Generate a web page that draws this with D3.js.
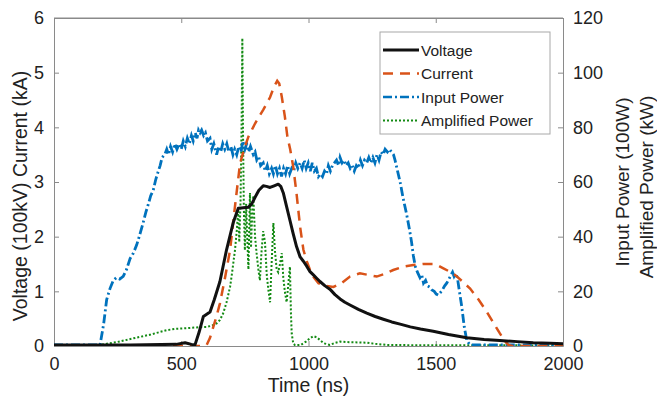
<!DOCTYPE html>
<html lang="en">
  <head>
    <meta charset="utf-8" />
    <title>Voltage, current and power</title>
    <script src="https://d3js.org/d3.v7.min.js"></script>
    <style>
      body { margin: 0; background: white; }
      text { font-family: "Liberation Sans", Arial, sans-serif; fill: #222; }
    </style>
  </head>
  <body>
    <div id="chart"></div>
    <script>
      // [time (ns), value] pairs
      var voltage = [
        [0, 0.02], [100, 0.02], [300, 0.02], [480, 0.03], [515, 0.06], [540, 0.03],
        [554, 0.02], [570, 0.25], [587, 0.54], [600, 0.58], [613, 0.62], [630, 0.85],
        [652, 1.18], [678, 1.76], [705, 2.27], [724, 2.52], [745, 2.53], [764, 2.54],
        [777, 2.6], [790, 2.72], [805, 2.85], [822, 2.93], [835, 2.92], [849, 2.9],
        [865, 2.93], [881, 2.96], [891, 2.92], [901, 2.8], [914, 2.55], [927, 2.3],
        [940, 2.05], [953, 1.82], [967, 1.63], [980, 1.55], [993, 1.46], [1006, 1.36],
        [1019, 1.3], [1032, 1.24], [1045, 1.18], [1065, 1.1], [1084, 1.04], [1104, 0.94],
        [1124, 0.86], [1143, 0.8], [1163, 0.75], [1196, 0.67], [1229, 0.6], [1262, 0.54],
        [1294, 0.49], [1327, 0.44], [1360, 0.4], [1400, 0.35], [1440, 0.31], [1490, 0.27],
        [1550, 0.21], [1622, 0.15], [1690, 0.12], [1752, 0.1], [1820, 0.08], [1883, 0.06],
        [1950, 0.05], [2000, 0.04]
      ];

      var current = [
        [0, 0], [580, 0], [600, 0.02], [613, 0.15], [626, 0.35], [639, 0.55], [652, 0.78],
        [672, 1.25], [692, 1.76], [711, 2.55], [731, 3.34], [747, 3.6], [764, 3.83],
        [790, 4.07], [822, 4.32], [849, 4.55], [865, 4.75], [877, 4.85], [885, 4.8],
        [895, 4.56], [907, 4.2], [917, 3.83], [928, 3.6], [940, 3.28], [953, 2.79],
        [967, 2.18], [980, 1.76], [993, 1.55], [1006, 1.39], [1020, 1.26], [1039, 1.15],
        [1065, 1.1], [1098, 1.08], [1130, 1.15], [1163, 1.27], [1202, 1.33], [1235, 1.3],
        [1268, 1.27], [1300, 1.32], [1333, 1.39], [1372, 1.45], [1412, 1.48], [1450, 1.5],
        [1490, 1.5], [1510, 1.47], [1530, 1.42], [1555, 1.36], [1576, 1.3], [1605, 1.18],
        [1635, 1.05], [1668, 0.85], [1700, 0.63], [1727, 0.42], [1752, 0.23], [1770, 0.1],
        [1785, 0.02], [1800, 0], [2000, 0]
      ];

      var inputPower = [
        [0, 0.4], [181, 0.4], [195, 8], [207, 17], [220, 21], [233, 24], [245, 25],
        [258, 24.5], [272, 25.5], [285, 28], [299, 32], [312, 34], [325, 37], [338, 41],
        [350, 45], [361, 49], [371, 52], [380, 55], [390, 57], [400, 61], [410, 64],
        [417, 66], [425, 69], [435, 70], [443, 72], [450, 70], [458, 73], [466, 71],
        [475, 74], [483, 72], [492, 74], [500, 72], [508, 75], [516, 73], [524, 76],
        [532, 74], [540, 77], [547, 75], [555, 78], [562, 76], [568, 79], [574, 78],
        [580, 79], [588, 77], [595, 78], [603, 75], [613, 76], [620, 72], [628, 74],
        [639, 70], [647, 73], [655, 71], [663, 74], [671, 72], [679, 74], [687, 71],
        [695, 73], [703, 70], [710, 72], [718, 70], [726, 73], [735, 71], [742, 75],
        [750, 72], [757, 74], [765, 71], [772, 73], [783, 70], [790, 71], [797, 68],
        [805, 69], [812, 66], [822, 67], [830, 64], [838, 66], [846, 63], [855, 65],
        [862, 63], [870, 66], [878, 63], [886, 65], [894, 62], [902, 65], [910, 63],
        [918, 66], [926, 63], [934, 65], [942, 64], [950, 67], [958, 65], [967, 67],
        [975, 65], [983, 68], [991, 65], [999, 67], [1007, 64], [1015, 67], [1023, 64],
        [1031, 65], [1039, 62], [1047, 63], [1055, 62], [1063, 64], [1071, 63], [1078, 66],
        [1086, 64], [1094, 66], [1102, 67], [1110, 68], [1118, 66], [1124, 69], [1132, 67],
        [1140, 68], [1148, 66], [1156, 67], [1164, 65], [1172, 66], [1180, 64], [1188, 66],
        [1196, 65], [1204, 68], [1212, 66], [1220, 68], [1229, 67], [1237, 69], [1245, 67],
        [1253, 69], [1261, 67], [1269, 70], [1277, 68], [1285, 71], [1293, 70], [1301, 72],
        [1310, 71], [1318, 72], [1326, 71], [1334, 70], [1340, 68], [1350, 64], [1360, 60],
        [1372, 54], [1386, 48], [1398, 42], [1405, 38], [1412, 33], [1420, 29], [1428, 27],
        [1438, 25], [1445, 26], [1452, 23], [1460, 24], [1468, 22], [1477, 21.5], [1485, 20.5],
        [1494, 20], [1502, 19], [1510, 18.6], [1518, 19.5], [1526, 20.5], [1535, 22],
        [1543, 23], [1552, 24.5], [1560, 26], [1566, 27], [1572, 25.5], [1578, 26.5],
        [1585, 25], [1593, 20], [1602, 14.5], [1612, 7], [1622, 2], [1635, 0.4], [2000, 0.4]
      ];

      var amplifiedPower = [
        [0, 0.3], [181, 0.4], [250, 1.5], [312, 2.8], [380, 4.2], [443, 5.8], [480, 6.3],
        [521, 6.5], [560, 6.8], [600, 7], [620, 7.4], [639, 8.3], [652, 9.5], [665, 12],
        [678, 16], [692, 21.7], [700, 27], [711, 35], [718, 42], [724, 50], [728, 38],
        [733, 53], [737, 80], [740, 112.6], [743, 75], [746, 50], [750, 35], [755, 52],
        [760, 38], [764, 28], [770, 56], [774, 36], [777, 44], [783, 55], [790, 40],
        [796, 34], [803, 28], [809, 24], [815, 34], [822, 42], [829, 38], [836, 26],
        [843, 20], [849, 16], [855, 30], [862, 45], [868, 35], [875, 28], [881, 27],
        [888, 30], [895, 34], [901, 25], [907, 20], [914, 16], [920, 22], [927, 29],
        [931, 12], [934, 4.6], [940, 1], [947, 0.3], [970, 0.4], [990, 1.6], [1005, 2.8],
        [1019, 3.6], [1032, 3.2], [1045, 2.2], [1060, 1], [1084, 0.4], [1100, 1],
        [1124, 1.6], [1160, 1.4], [1200, 1.3], [1229, 1.2], [1260, 0.8], [1307, 0.4],
        [1400, 0.3], [2000, 0.2]
      ];

      var xTicks = [0, 500, 1000, 1500, 2000];
      var leftTicks = [0, 1, 2, 3, 4, 5, 6];
      var rightTicks = [0, 20, 40, 60, 80, 100, 120];

      var legendNames = ["Voltage", "Current", "Input Power", "Amplified Power"];

      var W = 657, H = 402;
      var margin = { top: 18, right: 94, bottom: 56, left: 54 };
      var width = W - margin.left - margin.right;
      var height = H - margin.top - margin.bottom;

      var svg = d3
        .select("#chart")
        .append("svg")
        .attr("width", W)
        .attr("height", H);

      var g = svg
        .append("g")
        .attr("transform", "translate(" + margin.left + "," + margin.top + ")");

      var x = d3.scaleLinear().domain([0, 2000]).range([0, width]);
      var yL = d3.scaleLinear().domain([0, 6]).range([height, 0]);
      var yR = d3.scaleLinear().domain([0, 120]).range([height, 0]);

      var axisColor = "#8a8a8a";
      var fmt = d3.format("d");

      function styleAxis(sel) {
        sel.select(".domain").attr("stroke", axisColor);
        sel.selectAll(".tick line").attr("stroke", axisColor);
        sel
          .selectAll(".tick text")
          .style("font-family", '"Liberation Sans", Arial, sans-serif')
          .style("font-size", "18px")
          .attr("fill", "#222");
      }

      // bottom axis
      g.append("g")
        .attr("transform", "translate(0," + height + ")")
        .call(d3.axisBottom(x).tickValues(xTicks).tickFormat(fmt).tickSizeInner(-5).tickSizeOuter(0).tickPadding(11))
        .call(styleAxis);

      // top axis (ticks only)
      g.append("g")
        .call(d3.axisTop(x).tickValues(xTicks).tickSizeInner(-5).tickSizeOuter(0).tickFormat(""))
        .call(styleAxis);

      // left axis
      g.append("g")
        .call(d3.axisLeft(yL).tickValues(leftTicks).tickFormat(fmt).tickSizeInner(-5).tickSizeOuter(0).tickPadding(10))
        .call(styleAxis);

      // right axis
      g.append("g")
        .attr("transform", "translate(" + width + ",0)")
        .call(d3.axisRight(yR).tickValues(rightTicks).tickFormat(fmt).tickSizeInner(-5).tickSizeOuter(0).tickPadding(10))
        .call(styleAxis);

      // clip to plot area
      g.append("clipPath")
        .attr("id", "clip")
        .append("rect")
        .attr("width", width)
        .attr("height", height);

      var plot = g.append("g").attr("clip-path", "url(#clip)");

      var lineL = d3.line().x(function (d) { return x(d[0]); }).y(function (d) { return yL(d[1]); });
      var lineR = d3.line().x(function (d) { return x(d[0]); }).y(function (d) { return yR(d[1]); });

      plot.append("path")
        .datum(amplifiedPower)
        .attr("fill", "none")
        .attr("stroke", "#138a13")
        .attr("stroke-width", 2)
        .attr("stroke-dasharray", "2,2")
        .attr("d", lineR);

      plot.append("path")
        .datum(inputPower)
        .attr("fill", "none")
        .attr("stroke", "#0072BD")
        .attr("stroke-width", 2.8)
        .attr("stroke-dasharray", "9,3,2,3")
        .attr("d", lineR);

      plot.append("path")
        .datum(current)
        .attr("fill", "none")
        .attr("stroke", "#D95319")
        .attr("stroke-width", 2.5)
        .attr("stroke-dasharray", "10,7")
        .attr("d", lineL);

      plot.append("path")
        .datum(voltage)
        .attr("fill", "none")
        .attr("stroke", "#111")
        .attr("stroke-width", 3)
        .attr("stroke-linejoin", "round")
        .attr("d", lineL);

      // axis titles
      svg.append("text")
        .attr("x", margin.left + width / 2)
        .attr("y", 392)
        .attr("text-anchor", "middle")
        .style("font-size", "19.5px")
        .text("Time (ns)");

      svg.append("text")
        .attr("transform", "translate(27,196) rotate(-90)")
        .attr("text-anchor", "middle")
        .style("font-size", "19.5px")
        .text("Voltage (100kV) Current (kA)");

      svg.append("text")
        .attr("transform", "translate(629,182) rotate(-90)")
        .attr("text-anchor", "middle")
        .style("font-size", "19px")
        .text("Input Power (100W)");

      svg.append("text")
        .attr("transform", "translate(653,187) rotate(-90)")
        .attr("text-anchor", "middle")
        .style("font-size", "19px")
        .text("Amplified Power (kW)");

      // top frame line of the box
      g.append("line")
        .attr("x1", 0).attr("x2", width).attr("y1", 0).attr("y2", 0)
        .attr("stroke", axisColor);

      // legend
      var legendStyles = [
        { color: "#111", width: 3, dash: null },
        { color: "#D95319", width: 2.5, dash: "10,7" },
        { color: "#0072BD", width: 2.5, dash: "9,3,2,3" },
        { color: "#138a13", width: 2, dash: "2,2" }
      ];

      var legend = svg.append("g").attr("transform", "translate(380,32)");
      legend.append("rect")
        .attr("width", 170)
        .attr("height", 102)
        .attr("fill", "white")
        .attr("stroke", "#a8a8a8");

      legendNames.forEach(function (name, i) {
        var yy = 18 + i * 23.5;
        legend.append("line")
          .attr("x1", 3).attr("x2", 39)
          .attr("y1", yy).attr("y2", yy)
          .attr("stroke", legendStyles[i].color)
          .attr("stroke-width", legendStyles[i].width)
          .attr("stroke-dasharray", legendStyles[i].dash);
        legend.append("text")
          .attr("x", 41)
          .attr("y", yy + 5.5)
          .style("font-size", "15.5px")
          .text(name);
      });
    </script>
  </body>
</html>
